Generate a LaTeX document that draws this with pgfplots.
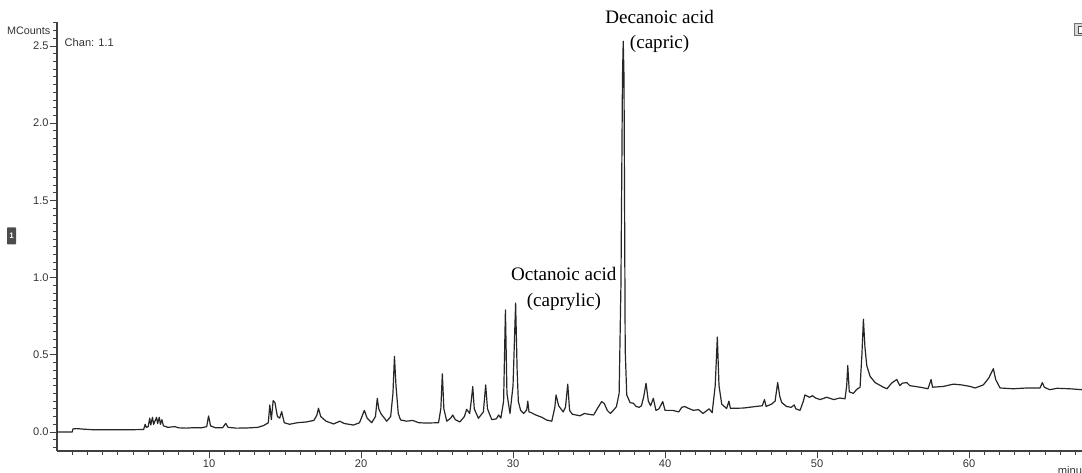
\documentclass[border=0pt]{standalone}
\usepackage{pgfplots}
\pgfplotsset{compat=1.18}
\usepackage{fontspec}
\setmainfont{Liberation Sans}
\newfontfamily\serif{Liberation Serif}

\pgfplotstableread{
t y
0.0 0.0
1.0 0.0
1.05 0.02
1.3 0.022
1.8 0.018
2.3 0.015
5.0 0.015
5.7 0.016
5.8 0.05
5.88 0.03
6.0 0.035
6.1 0.09
6.17 0.045
6.28 0.095
6.36 0.05
6.55 0.095
6.62 0.055
6.73 0.095
6.8 0.05
6.9 0.08
7.0 0.04
7.3 0.03
7.75 0.035
8.0 0.027
8.5 0.025
9.0 0.028
9.5 0.027
9.85 0.035
9.97 0.104
10.1 0.04
10.4 0.028
10.9 0.028
11.1 0.056
11.25 0.03
11.8 0.025
12.5 0.026
13.2 0.03
13.6 0.042
13.9 0.06
14.0 0.175
14.1 0.08
14.22 0.203
14.34 0.19
14.5 0.1
14.65 0.09
14.78 0.132
14.95 0.06
15.3 0.05
15.8 0.06
16.4 0.065
16.9 0.075
17.1 0.11
17.2 0.154
17.35 0.1
17.7 0.07
18.2 0.052
18.6 0.07
18.9 0.055
19.5 0.045
19.9 0.06
20.1 0.11
20.22 0.14
20.4 0.09
20.7 0.06
20.95 0.1
21.07 0.218
21.17 0.15
21.3 0.12
21.69 0.07
21.95 0.1
22.1 0.25
22.2 0.49
22.3 0.3
22.45 0.12
22.6 0.078
23.0 0.07
23.4 0.075
23.8 0.06
24.3 0.058
25.1 0.06
25.25 0.15
25.35 0.377
25.45 0.15
25.64 0.07
25.9 0.09
26.03 0.11
26.2 0.08
26.5 0.065
26.8 0.1
26.95 0.147
27.15 0.12
27.25 0.2
27.35 0.294
27.45 0.15
27.72 0.089
28.05 0.13
28.2 0.305
28.32 0.15
28.6 0.08
28.9 0.085
29.05 0.11
29.2 0.09
29.38 0.2
29.5 0.79
29.6 0.25
29.8 0.12
30.0 0.3
30.17 0.835
30.27 0.4
30.35 0.197
30.5 0.14
30.7 0.12
30.9 0.143
30.97 0.2
31.05 0.13
31.2 0.125
31.5 0.11
31.9 0.095
32.2 0.078
32.55 0.07
32.75 0.16
32.83 0.24
33.0 0.17
33.3 0.13
33.45 0.16
33.6 0.31
33.72 0.14
33.9 0.115
34.4 0.105
34.7 0.12
34.95 0.115
35.3 0.11
35.6 0.16
35.83 0.197
36.0 0.185
36.2 0.14
36.4 0.12
36.6 0.14
36.8 0.164
36.98 0.25
37.1 0.96
37.2 2.3
37.25 2.53
37.3 2.3
37.38 0.53
37.48 0.24
37.7 0.19
37.92 0.186
38.1 0.165
38.3 0.16
38.45 0.17
38.6 0.23
38.75 0.316
38.9 0.2
39.05 0.17
39.23 0.218
39.4 0.14
39.6 0.15
39.85 0.197
40.0 0.14
40.5 0.14
40.9 0.13
41.1 0.16
41.3 0.165
41.5 0.155
41.86 0.14
42.2 0.145
42.5 0.12
42.9 0.15
43.1 0.125
43.3 0.3
43.44 0.615
43.55 0.3
43.73 0.18
44.05 0.152
44.2 0.2
44.3 0.153
45.15 0.155
46.03 0.166
46.4 0.17
46.54 0.21
46.65 0.166
47.0 0.18
47.24 0.2
47.41 0.32
47.55 0.23
47.68 0.19
48.0 0.165
48.3 0.16
48.5 0.175
48.6 0.15
48.88 0.14
49.1 0.2
49.2 0.24
49.5 0.225
49.7 0.235
49.9 0.22
50.2 0.21
50.64 0.225
51.1 0.21
51.5 0.22
51.84 0.215
51.95 0.3
52.02 0.43
52.12 0.26
52.39 0.25
52.6 0.275
52.83 0.29
52.95 0.5
53.05 0.73
53.15 0.55
53.27 0.43
53.49 0.36
53.82 0.32
54.36 0.29
54.6 0.28
54.9 0.316
55.24 0.34
55.45 0.3
55.6 0.316
55.9 0.32
56.1 0.3
56.78 0.29
57.3 0.28
57.5 0.34
57.6 0.29
58.3 0.295
58.97 0.31
59.5 0.305
60.07 0.295
60.4 0.285
60.94 0.305
61.3 0.35
61.6 0.41
61.75 0.34
62.04 0.285
62.9 0.28
63.8 0.285
64.67 0.285
64.82 0.32
64.95 0.29
65.3 0.274
65.8 0.283
66.6 0.28
67.43 0.274
}\chrom

\begin{document}
\begin{tikzpicture}
\begin{axis}[
  scale only axis,
  width=768.75pt, height=321.75pt,
  xmin=0, xmax=67.43, ymin=-0.123, ymax=2.655,
  axis lines=left,
  axis line style={-, black!75, line width=0.8pt},
  tick align=outside,
  xtick={10,20,...,60}, minor xtick={1,...,67},
  ytick={0,0.5,...,2.5}, minor ytick={-0.1,-0.05,...,2.65},
  major tick length=5.5pt, minor tick length=2.8pt,
  tick style={black!75, line width=0.6pt},
  /pgf/number format/assume math mode=true,
  yticklabel style={/pgf/number format/.cd, fixed, fixed zerofill, precision=1},
  tick label style={font=\fontsize{8.3}{9}\selectfont, text=black!80, inner sep=0.6pt},
  clip=false,
]
\addplot[black!85, line width=0.9pt, line join=round] table[x=t, y=y] {\chrom};

\node[font=\serif\fontsize{14.3}{19}\selectfont, align=center] at (axis cs:39.64,2.594) {Decanoic acid\\(capric)};
\node[font=\serif\fontsize{14.3}{19.5}\selectfont, align=center] at (axis cs:33.34,0.929) {Octanoic acid\\(caprylic)};

\node[anchor=west, font=\fontsize{8.3}{9}\selectfont, text=black!80] at (axis cs:0.2,2.52) {Chan: 1.1};
\node[anchor=east, inner sep=0.3pt, font=\fontsize{8.1}{9}\selectfont, text=black!80] at (axis cs:-0.4,2.6) {MCounts};
\node[anchor=west, font=\fontsize{8.4}{9}\selectfont, text=black!80] at (axis cs:65.53,-0.247) {minutes};

\node[fill=black!70, text=white, minimum width=6.75pt, minimum height=12.75pt, inner sep=0pt,
      rounded corners=0.6pt, font=\fontsize{6}{6}\selectfont\bfseries] at (axis cs:-2.99,1.27) {1};
\node[draw=black!55, fill=black!15, line width=0.7pt, minimum size=9pt, inner sep=0pt] at (axis cs:67.3,2.604) {};
\node[draw=black!70, fill=white, line width=0.5pt, minimum width=3pt, minimum height=5pt, inner sep=0pt] at (axis cs:67.3,2.604) {};
\end{axis}
\pgfresetboundingbox
\path[use as bounding box] ([xshift=-42.75pt,yshift=-16.5pt]current axis.south west) rectangle ([yshift=16.5pt]current axis.north east);
\end{tikzpicture}
\end{document}
